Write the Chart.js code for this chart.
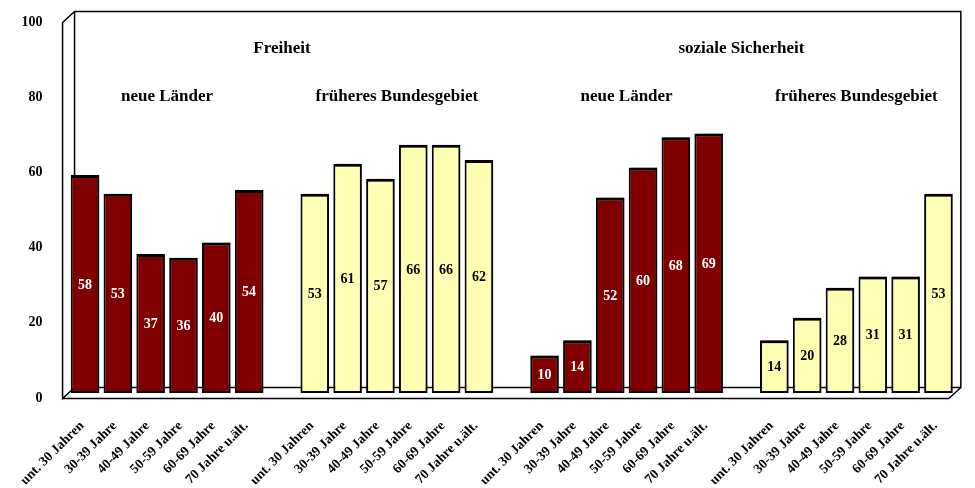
<!DOCTYPE html>
<html lang="de">
<head>
    <meta charset="UTF-8">
    <title>Freiheit und soziale Sicherheit</title>
    <script src="https://cdn.jsdelivr.net/npm/chart.js"></script>
    <style>
        body { margin: 0; background: #fff; }
        .wrap { width: 975px; height: 488px; }
    </style>
</head>
<body>
    <div class="wrap"><canvas id="chart"></canvas></div>

    <script>
        // Altersgruppen (je Block gleich)
        const ageGroups = ['unt. 30 Jahren', '30-39 Jahre', '40-49 Jahre', '50-59 Jahre', '60-69 Jahre', '70 Jahre u.ält.'];

        // Freiheit
        const freiheitNeue = [58, 53, 37, 36, 40, 54];
        const freiheitFrueher = [53, 61, 57, 66, 66, 62];
        // soziale Sicherheit
        const sicherheitNeue = [10, 14, 52, 60, 68, 69];
        const sicherheitFrueher = [14, 20, 28, 31, 31, 53];

        const topicTitles = ['Freiheit', 'soziale Sicherheit'];
        const regionTitles = ['neue Länder', 'früheres Bundesgebiet', 'neue Länder', 'früheres Bundesgebiet'];
        const yTicks = [0, 20, 40, 60, 80, 100];

        const DARK = '#800000';
        const LIGHT = '#FFFFB3';
        const FONT = "'Liberation Serif', 'Times New Roman', serif";

        // build one category list with an empty slot between blocks
        let blocks = [
            { values: freiheitNeue, color: DARK, text: '#fff' },
            { values: freiheitFrueher, color: LIGHT, text: '#000' },
            { values: sicherheitNeue, color: DARK, text: '#fff' },
            { values: sicherheitFrueher, color: LIGHT, text: '#000' }
        ];
        let labels = [], values = [], colors = [], textColors = [], blockRange = [];
        blocks.forEach(function(b, i) {
            if (i > 0) { labels.push(''); values.push(null); colors.push(null); textColors.push(null); }
            let start = labels.length;
            ageGroups.forEach(function(g, j) {
                labels.push(g);
                values.push(b.values[j]);
                colors.push(b.color);
                textColors.push(b.text);
            });
            blockRange.push([start, labels.length - 1]);
        });

        // Excel-style 3D box: back wall, side wall and floor
        const depth = { x: 6, y: 5.5 };
        const boxPlugin = {
            id: 'box3d',
            beforeDatasetsDraw(chart) {
                let ctx = chart.ctx, a = chart.chartArea, y = chart.scales.y;
                let top = y.getPixelForValue(100), bot = y.getPixelForValue(0);
                let bl = a.left + depth.x, br = a.right + depth.x, bt = top - depth.y, bb = bot - depth.y;
                let fl = a.left - depth.x, fr = a.right - depth.x, ft = top + depth.y, fb = bot + depth.y;
                ctx.save();
                ctx.strokeStyle = '#000';
                ctx.lineWidth = 1.5;
                ctx.beginPath();
                // back wall
                ctx.moveTo(bl, bb); ctx.lineTo(bl, bt); ctx.lineTo(br, bt); ctx.lineTo(br, bb); ctx.lineTo(bl, bb);
                // side wall
                ctx.moveTo(bl, bt); ctx.lineTo(fl, ft); ctx.lineTo(fl, fb); ctx.lineTo(bl, bb);
                // floor
                ctx.moveTo(fl, fb); ctx.lineTo(fr, fb); ctx.lineTo(br, bb);
                ctx.stroke();

                // titles
                let x = chart.scales.x;
                ctx.fillStyle = '#000';
                ctx.font = 'bold 17px ' + FONT;
                ctx.textAlign = 'center';
                ctx.textBaseline = 'middle';
                topicTitles.forEach(function(t, i) {
                    let c = (x.getPixelForValue(blockRange[i * 2][0]) + x.getPixelForValue(blockRange[i * 2 + 1][1])) / 2;
                    ctx.fillText(t, c, y.getPixelForValue(91.5));
                });
                regionTitles.forEach(function(t, i) {
                    let c = (x.getPixelForValue(blockRange[i][0]) + x.getPixelForValue(blockRange[i][1])) / 2;
                    ctx.fillText(t, c, y.getPixelForValue(78.7));
                });
                ctx.restore();

                // shadow for the bars
                ctx.save();
                ctx.shadowColor = 'rgba(0,0,0,0.4)';
                ctx.shadowOffsetX = 2;
                ctx.shadowOffsetY = 0;
                ctx.shadowBlur = 0;
            },
            afterDatasetsDraw(chart) {
                let ctx = chart.ctx;
                ctx.restore();
                ctx.save();
                ctx.font = 'bold 14px ' + FONT;
                ctx.textAlign = 'center';
                ctx.textBaseline = 'middle';
                chart.getDatasetMeta(0).data.forEach(function(bar, i) {
                    if (values[i] == null) return;
                    let p = bar.getProps(['x', 'y', 'base'], true);
                    ctx.fillStyle = textColors[i];
                    ctx.fillText(String(values[i]), p.x, (p.y + p.base) / 2 + 1);
                });
                ctx.restore();
            }
        };

        new Chart(document.getElementById('chart'), {
            type: 'bar',
            data: {
                labels: labels,
                datasets: [{
                    data: values,
                    backgroundColor: colors,
                    borderColor: '#000',
                    borderWidth: { top: 3, right: 2, bottom: 2, left: 2 },
                    borderSkipped: false,
                    categoryPercentage: 1,
                    barPercentage: 0.87
                }]
            },
            options: {
                responsive: true,
                maintainAspectRatio: false,
                animation: false,
                layout: { padding: { top: 17, right: 7, left: 0, bottom: 0 } },
                plugins: { legend: { display: false }, tooltip: { enabled: false } },
                scales: {
                    x: {
                        grid: { display: false, drawTicks: false },
                        border: { display: false },
                        ticks: {
                            autoSkip: false,
                            maxRotation: 45,
                            minRotation: 45,
                            padding: 25,
                            labelOffset: -3,
                            color: '#000',
                            font: { family: FONT, size: 13.5, weight: 'bold' }
                        },
                        afterFit(scale) { scale.height = 95; }
                    },
                    y: {
                        min: 0,
                        max: 100,
                        grid: { display: false, drawTicks: false },
                        border: { display: false },
                        afterBuildTicks(scale) { scale.ticks = yTicks.map(function(v) { return { value: v }; }); },
                        ticks: {
                            padding: 26,
                            labelOffset: 5,
                            color: '#000',
                            font: { family: FONT, size: 14, weight: 'bold' }
                        },
                        afterFit(scale) {
                            scale.width = 68;
                            scale.paddingTop = 0;
                            scale.paddingBottom = 0;
                        }
                    }
                }
            },
            plugins: [boxPlugin]
        });
    </script>
</body>
</html>
